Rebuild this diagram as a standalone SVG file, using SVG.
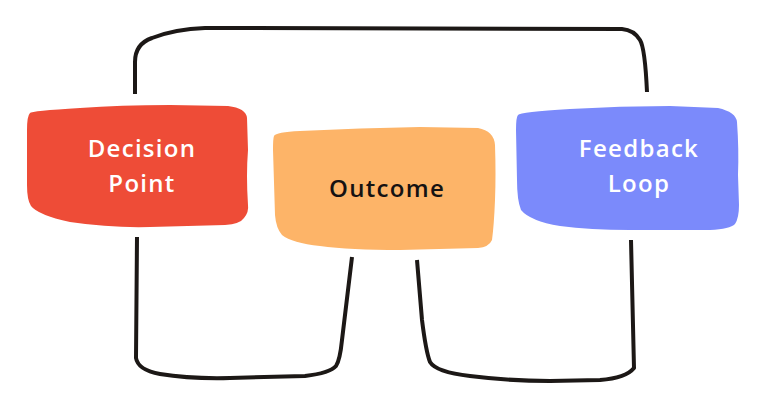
<svg xmlns="http://www.w3.org/2000/svg" width="768" height="411" viewBox="0 0 768 411">
<style>
.conn{fill:none;stroke:#1c1816;stroke-width:4;stroke-linecap:butt;stroke-linejoin:round}
.lbl{font-family:"Open Sans","Noto Sans","Liberation Sans",sans-serif;font-weight:600;font-size:24px;letter-spacing:1.3px;text-anchor:middle}
.w{fill:#ffffff}
.k{fill:#151212}
</style>
<rect width="768" height="411" fill="#ffffff"/>
<g id="connectors">
<path class="conn" d="M135,94 L135,62 Q135,44 152,38 Q175,29 205,28 L622,29 Q634,30 640,40 Q645,48 647,92"/>
<path class="conn" d="M137,237 L136,358 Q138,370 160,374 Q190,379 230,378 L305,376 Q330,373 336,366 Q340,360 342,340 L352,257"/>
<path class="conn" d="M417,260 L422,320 Q426,352 430,362 Q436,372 470,376 Q510,381 550,381 L600,380 Q626,378 634,368 L631,240"/>
</g>
<g id="decision-point">
<path fill="#EE4C37" d="M30,113 Q31,111 80,108 Q120,105 170,105 L228,106 Q246,108 247,118 L248,150 Q246,175 248,205 Q249,212 244,218 Q240,224 225,225 L150,227 Q110,228 70,222 Q38,215 31,206 Q27,200 27,185 L27,130 Q27,116 30,113 Z"/>
<text class="lbl w" x="142" y="157">Decision</text>
<text class="lbl w" x="142" y="192">Point</text>
</g>
<g id="outcome">
<path fill="#FDB468" d="M274,136 Q276,132 300,131 Q360,128 420,127 L478,128 Q494,131 495,145 Q496,175 495,200 Q494,225 492,240 Q489,247 478,248 L400,250 Q350,250 320,246 Q292,243 282,235 Q276,228 275,215 L273,150 Q273,138 274,136 Z"/>
<text class="lbl k" x="387" y="197">Outcome</text>
</g>
<g id="feedback-loop">
<path fill="#7B8AFB" d="M518,115 Q520,112 570,109 Q620,106 670,106 L718,108 Q736,112 737,122 Q739,150 738,175 L739,205 Q739,218 735,224 Q730,229 710,230 L630,230 Q590,230 560,226 Q530,221 521,210 Q517,200 517,180 L516,130 Q516,117 518,115 Z"/>
<text class="lbl w" x="639" y="157">Feedback</text>
<text class="lbl w" x="639" y="192">Loop</text>
</g>
</svg>
